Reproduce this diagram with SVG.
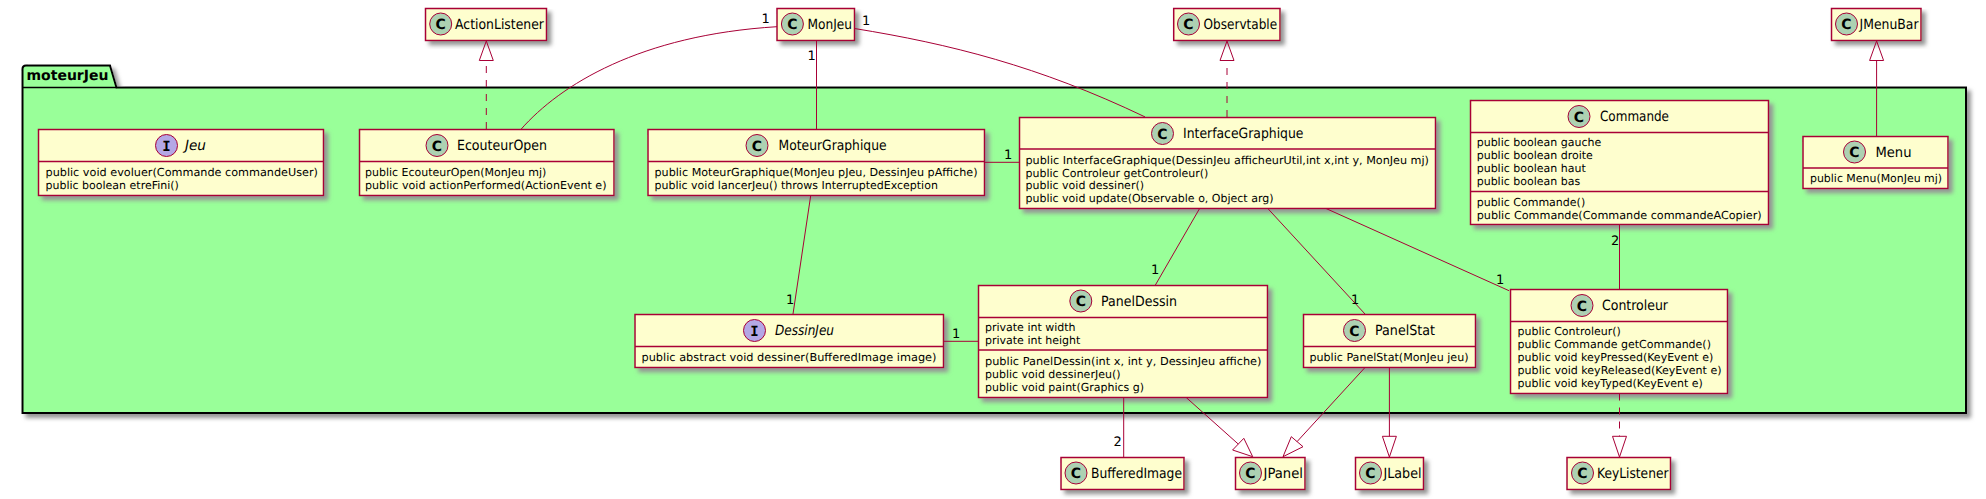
<svg xmlns="http://www.w3.org/2000/svg" width="1986" height="499" viewBox="0 0 1986 499">
<style>
text{font-family:"DejaVu Sans",sans-serif;fill:#000;text-rendering:geometricPrecision}
.box{fill:#FEFECE;stroke:#A80036;stroke-width:1.5;filter:url(#sh)}
.div{stroke:#A80036;stroke-width:1.5;fill:none}
.c{fill:#ADD1B2;stroke:#A80036;stroke-width:1}
.i{fill:#B4A7E5;stroke:#A80036;stroke-width:1}
.cl{font-size:14px;font-weight:bold;text-anchor:middle}
.il{font-size:14px;font-weight:bold;text-anchor:middle;font-family:"DejaVu Sans Mono",monospace}
.t{font-size:14px}
.it{font-size:14px;font-style:italic}
.m{font-size:11px}
.n{font-size:13px}
.ln{fill:none;stroke:#A80036;stroke-width:1}
.da{fill:none;stroke:#A80036;stroke-width:1;stroke-dasharray:7 7}
.tr{fill:none;stroke:#A80036;stroke-width:1}
.pk{fill:#99FF99;stroke:#000;stroke-width:2;filter:url(#sh)}
.pt{font-size:14px;font-weight:bold}
.ph{fill:none;stroke:#000;stroke-width:1.5}
</style>
<defs>
<filter id="sh" x="-10%" y="-10%" width="125%" height="135%">
<feGaussianBlur in="SourceAlpha" stdDeviation="2"/>
<feOffset dx="4" dy="4"/>
<feColorMatrix type="matrix" values="0 0 0 0 0.3  0 0 0 0 0.3  0 0 0 0 0.3  0 0 0 1 0"/>
<feMerge><feMergeNode/><feMergeNode in="SourceGraphic"/></feMerge>
</filter>
</defs>
<g id="moteurJeu">
<path class="pk" d="M22.5,87.5 V69 Q22.5,65.5 26,65.5 H110 L116.5,87.5 H1966 V413 H22.5 Z"/>
<path class="ph" d="M22.5,87.5 H116.5"/>
<text class="pt" x="26.5" y="79.5">moteurJeu</text>
</g>
<g id="ActionListener">
<rect class="box" x="425.5" y="8.5" width="121" height="32"/>
<circle class="c" cx="440.7" cy="24" r="11"/><text class="cl" x="440.7" y="29">C</text>
<text class="t" x="455" y="29" textLength="89" lengthAdjust="spacingAndGlyphs">ActionListener</text>
</g>
<g id="MonJeu">
<rect class="box" x="777" y="8.5" width="77.5" height="32"/>
<circle class="c" cx="792.4" cy="24" r="11"/><text class="cl" x="792.4" y="29">C</text>
<text class="t" x="807.6" y="29" textLength="44.5" lengthAdjust="spacingAndGlyphs">MonJeu</text>
</g>
<g id="Observtable">
<rect class="box" x="1173.7" y="8.5" width="106.3" height="32"/>
<circle class="c" cx="1188.5" cy="24" r="11"/><text class="cl" x="1188.5" y="29">C</text>
<text class="t" x="1203.6" y="29" textLength="73.5" lengthAdjust="spacingAndGlyphs">Observtable</text>
</g>
<g id="JMenuBar">
<rect class="box" x="1831.5" y="8.5" width="89.5" height="32"/>
<circle class="c" cx="1846.5" cy="24" r="11"/><text class="cl" x="1846.5" y="29">C</text>
<text class="t" x="1859.5" y="29" textLength="59" lengthAdjust="spacingAndGlyphs">JMenuBar</text>
</g>
<g id="Jeu">
<rect class="box" x="38.5" y="129.5" width="285" height="66"/>
<path class="div" d="M38.5,161.5 H323.5"/>
<circle class="i" cx="166.5" cy="145.5" r="11"/><text class="il" x="166.5" y="150.5">I</text>
<text class="it" x="185" y="150" textLength="21" lengthAdjust="spacingAndGlyphs">Jeu</text>
<text class="m" x="45.5" y="176" textLength="272.5" lengthAdjust="spacingAndGlyphs">public void evoluer(Commande commandeUser)</text>
<text class="m" x="45.5" y="189">public boolean etreFini()</text>
</g>
<g id="EcouteurOpen">
<rect class="box" x="359.5" y="129.5" width="254.5" height="66"/>
<path class="div" d="M359.5,161.5 H614"/>
<circle class="c" cx="437" cy="145.5" r="11"/><text class="cl" x="437" y="150.5">C</text>
<text class="t" x="457" y="150" textLength="90" lengthAdjust="spacingAndGlyphs">EcouteurOpen</text>
<text class="m" x="365" y="176">public EcouteurOpen(MonJeu mj)</text>
<text class="m" x="365" y="189" textLength="241.5" lengthAdjust="spacingAndGlyphs">public void actionPerformed(ActionEvent e)</text>
</g>
<g id="MoteurGraphique">
<rect class="box" x="648" y="129.5" width="336.5" height="66"/>
<path class="div" d="M648,161.5 H984.5"/>
<circle class="c" cx="757" cy="145.5" r="11"/><text class="cl" x="757" y="150.5">C</text>
<text class="t" x="778.6" y="150" textLength="108" lengthAdjust="spacingAndGlyphs">MoteurGraphique</text>
<text class="m" x="654.5" y="176" textLength="323" lengthAdjust="spacingAndGlyphs">public MoteurGraphique(MonJeu pJeu, DessinJeu pAffiche)</text>
<text class="m" x="654.5" y="189">public void lancerJeu() throws InterruptedException</text>
</g>
<g id="InterfaceGraphique">
<rect class="box" x="1019.5" y="117.5" width="416" height="91"/>
<path class="div" d="M1019.5,149 H1435.5"/>
<circle class="c" cx="1162.5" cy="133.5" r="11"/><text class="cl" x="1162.5" y="138.5">C</text>
<text class="t" x="1183" y="138" textLength="120.5" lengthAdjust="spacingAndGlyphs">InterfaceGraphique</text>
<text class="m" x="1025.5" y="163.5" textLength="403.5" lengthAdjust="spacingAndGlyphs">public InterfaceGraphique(DessinJeu afficheurUtil,int x,int y, MonJeu mj)</text>
<text class="m" x="1025.5" y="176.5">public Controleur getControleur()</text>
<text class="m" x="1025.5" y="189">public void dessiner()</text>
<text class="m" x="1025.5" y="202">public void update(Observable o, Object arg)</text>
</g>
<g id="Commande">
<rect class="box" x="1470.5" y="100.5" width="298" height="124"/>
<path class="div" d="M1470.5,132.5 H1768.5 M1470.5,191.5 H1768.5"/>
<circle class="c" cx="1579" cy="116.5" r="11"/><text class="cl" x="1579" y="121.5">C</text>
<text class="t" x="1600" y="121" textLength="69" lengthAdjust="spacingAndGlyphs">Commande</text>
<text class="m" x="1476.7" y="146">public boolean gauche</text>
<text class="m" x="1476.7" y="159">public boolean droite</text>
<text class="m" x="1476.7" y="172">public boolean haut</text>
<text class="m" x="1476.7" y="185">public boolean bas</text>
<text class="m" x="1476.7" y="205.5">public Commande()</text>
<text class="m" x="1476.7" y="218.5" textLength="285" lengthAdjust="spacingAndGlyphs">public Commande(Commande commandeACopier)</text>
</g>
<g id="Menu">
<rect class="box" x="1803" y="136.5" width="145" height="52"/>
<path class="div" d="M1803,168 H1948"/>
<circle class="c" cx="1854.5" cy="152" r="11"/><text class="cl" x="1854.5" y="157">C</text>
<text class="t" x="1875.5" y="156.5" textLength="36" lengthAdjust="spacingAndGlyphs">Menu</text>
<text class="m" x="1810" y="182" textLength="132" lengthAdjust="spacingAndGlyphs">public Menu(MonJeu mj)</text>
</g>
<g id="DessinJeu">
<rect class="box" x="635" y="314.5" width="308.5" height="53"/>
<path class="div" d="M635,346.5 H943.5"/>
<circle class="i" cx="754.5" cy="330.5" r="11"/><text class="il" x="754.5" y="335.5">I</text>
<text class="it" x="775" y="335" textLength="59" lengthAdjust="spacingAndGlyphs">DessinJeu</text>
<text class="m" x="641.5" y="361" textLength="295" lengthAdjust="spacingAndGlyphs">public abstract void dessiner(BufferedImage image)</text>
</g>
<g id="PanelDessin">
<rect class="box" x="978.5" y="285.5" width="289" height="112"/>
<path class="div" d="M978.5,317.5 H1267.5 M978.5,350 H1267.5"/>
<circle class="c" cx="1080.8" cy="301" r="11"/><text class="cl" x="1080.8" y="306">C</text>
<text class="t" x="1101" y="306" textLength="76" lengthAdjust="spacingAndGlyphs">PanelDessin</text>
<text class="m" x="985" y="331">private int width</text>
<text class="m" x="985" y="344">private int height</text>
<text class="m" x="985" y="365" textLength="276.5" lengthAdjust="spacingAndGlyphs">public PanelDessin(int x, int y, DessinJeu affiche)</text>
<text class="m" x="985" y="378">public void dessinerJeu()</text>
<text class="m" x="985" y="390.5">public void paint(Graphics g)</text>
</g>
<g id="PanelStat">
<rect class="box" x="1303.5" y="314.5" width="172" height="53"/>
<path class="div" d="M1303.5,346.5 H1475.5"/>
<circle class="c" cx="1354.5" cy="330.5" r="11"/><text class="cl" x="1354.5" y="335.5">C</text>
<text class="t" x="1375" y="335" textLength="60" lengthAdjust="spacingAndGlyphs">PanelStat</text>
<text class="m" x="1309.5" y="361" textLength="159" lengthAdjust="spacingAndGlyphs">public PanelStat(MonJeu jeu)</text>
</g>
<g id="Controleur">
<rect class="box" x="1510.5" y="289.5" width="217" height="104"/>
<path class="div" d="M1510.5,321.5 H1727.5"/>
<circle class="c" cx="1582" cy="305.5" r="11"/><text class="cl" x="1582" y="310.5">C</text>
<text class="t" x="1602" y="310" textLength="66" lengthAdjust="spacingAndGlyphs">Controleur</text>
<text class="m" x="1517.6" y="335">public Controleur()</text>
<text class="m" x="1517.6" y="348">public Commande getCommande()</text>
<text class="m" x="1517.6" y="361">public void keyPressed(KeyEvent e)</text>
<text class="m" x="1517.6" y="374" textLength="204" lengthAdjust="spacingAndGlyphs">public void keyReleased(KeyEvent e)</text>
<text class="m" x="1517.6" y="386.5">public void keyTyped(KeyEvent e)</text>
</g>
<g id="BufferedImage">
<rect class="box" x="1061" y="457.5" width="123" height="32"/>
<circle class="c" cx="1076" cy="473" r="11"/><text class="cl" x="1076" y="478">C</text>
<text class="t" x="1091" y="478" textLength="91" lengthAdjust="spacingAndGlyphs">BufferedImage</text>
</g>
<g id="JPanel">
<rect class="box" x="1235.5" y="457.5" width="69.5" height="32"/>
<circle class="c" cx="1250.5" cy="473" r="11"/><text class="cl" x="1250.5" y="478">C</text>
<text class="t" x="1263.5" y="478" textLength="39.5" lengthAdjust="spacingAndGlyphs">JPanel</text>
</g>
<g id="JLabel">
<rect class="box" x="1355.5" y="457.5" width="68" height="32"/>
<circle class="c" cx="1370.5" cy="473" r="11"/><text class="cl" x="1370.5" y="478">C</text>
<text class="t" x="1383.5" y="478" textLength="38" lengthAdjust="spacingAndGlyphs">JLabel</text>
</g>
<g id="KeyListener">
<rect class="box" x="1567" y="457.5" width="103.5" height="32"/>
<circle class="c" cx="1582.5" cy="473" r="11"/><text class="cl" x="1582.5" y="478">C</text>
<text class="t" x="1597" y="478" textLength="71.5" lengthAdjust="spacingAndGlyphs">KeyListener</text>
</g>
<g id="connectors">
<path class="da" d="M486.3,129 V60.5"/><path class="tr" d="M486.3,41 L479.3,60.5 H493.3 Z"/>
<path class="ln" d="M521,129.3 C560,85 640,35 777,26.7"/>
<path class="ln" d="M854.5,28.5 C950,44 1038.5,66 1145,116.9"/>
<path class="ln" d="M816.5,40.5 V129.3"/>
<path class="da" d="M1227,117 V60.5"/><path class="tr" d="M1227,41 L1220,60.5 H1234 Z"/>
<path class="ln" d="M1876.6,136 V60.5"/><path class="tr" d="M1876.6,41 L1869.6,60.5 H1883.6 Z"/>
<path class="ln" d="M984.5,162.3 H1019.5"/>
<path class="ln" d="M810.7,195.7 L793,314"/>
<path class="ln" d="M943.5,341.3 H978.5"/>
<path class="ln" d="M1199.6,208.5 L1155.4,285"/>
<path class="ln" d="M1267.8,208.5 L1365,314"/>
<path class="ln" d="M1326,208.5 L1509,290.7"/>
<path class="ln" d="M1619.5,224.5 V289.3"/>
<path class="ln" d="M1123.7,397.5 V457"/>
<path class="ln" d="M1186.2,397.5 L1238.2,444"/><path class="tr" d="M1252.7,456.7 L1232.6,450 L1243.8,438.3 Z"/>
<path class="ln" d="M1365,367.5 L1297,441.7"/><path class="tr" d="M1283,456.7 L1291.3,436.7 L1303,446.7 Z"/>
<path class="ln" d="M1389.4,367.5 V436.3"/><path class="tr" d="M1389.4,457 L1382.4,436.3 H1396.4 Z"/>
<path class="da" d="M1619.5,393.5 V436.3"/><path class="tr" d="M1619.5,457 L1612.5,436.3 H1626.5 Z"/>
<text class="n" x="761.5" y="22.5">1</text>
<text class="n" x="862" y="24.5">1</text>
<text class="n" x="807.5" y="60">1</text>
<text class="n" x="1004" y="158.5">1</text>
<text class="n" x="786" y="304">1</text>
<text class="n" x="952" y="337.5">1</text>
<text class="n" x="1151" y="274">1</text>
<text class="n" x="1351" y="304">1</text>
<text class="n" x="1496" y="284">1</text>
<text class="n" x="1611" y="245">2</text>
<text class="n" x="1113.5" y="445.5">2</text>
</g>
</svg>
